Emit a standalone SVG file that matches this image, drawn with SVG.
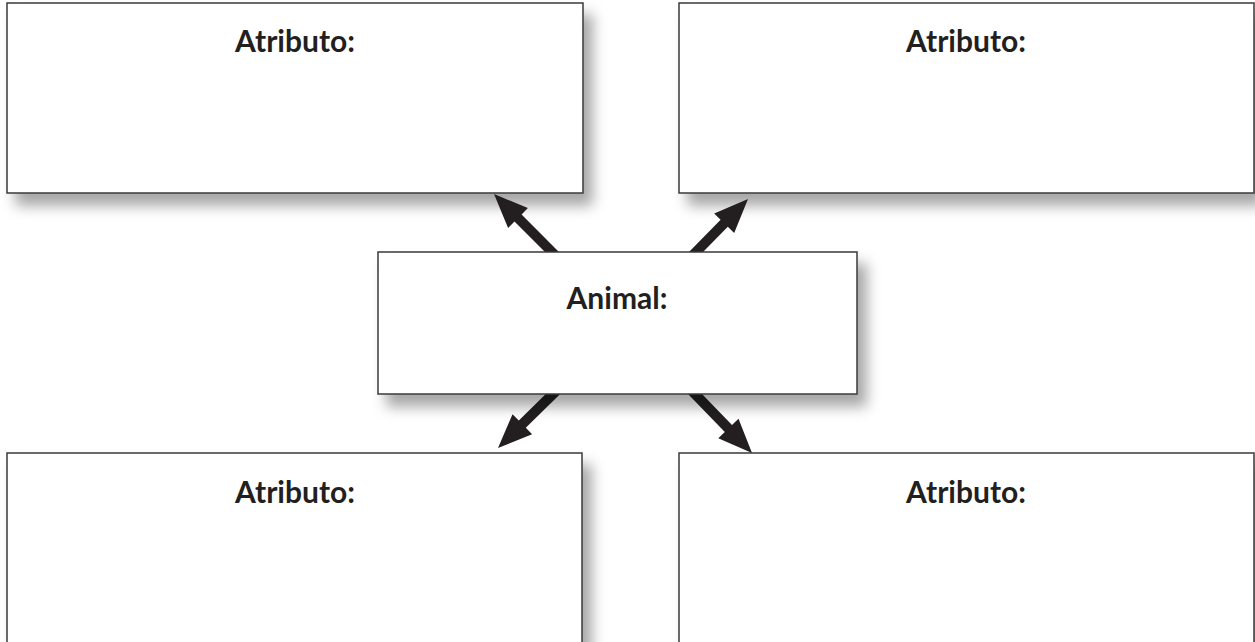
<svg xmlns="http://www.w3.org/2000/svg" width="1255" height="642" viewBox="0 0 1255 642">
<style>
.box{fill:#fff;stroke:#3a3a3a;stroke-width:1.5;filter:url(#sh)}
.lbl{font-family:Lato,"Open Sans",sans-serif;font-weight:bold;font-size:30px;fill:#231f20;text-anchor:middle}
.arr{fill:#231f20}
</style>
<defs>
<filter id="sh" x="-10%" y="-10%" width="130%" height="140%">
<feDropShadow dx="9" dy="12" stdDeviation="7" flood-color="#000" flood-opacity="0.35"/>
</filter>
</defs>
<g id="attr-tl"><rect class="box" x="7" y="3" width="576" height="190"/><text class="lbl" x="295" y="52">Atributo:</text></g>
<g id="attr-tr"><rect class="box" x="679" y="3" width="575" height="190"/><text class="lbl" x="966" y="52">Atributo:</text></g>
<g id="attr-bl"><rect class="box" x="7" y="453" width="575" height="200"/><text class="lbl" x="295" y="503">Atributo:</text></g>
<g id="attr-br"><rect class="box" x="679" y="453" width="575" height="200"/><text class="lbl" x="966" y="503">Atributo:</text></g>
<g id="connectors">
<polygon class="arr" points="561.2,254.2 521.6,214.5 527.9,208.1 494,194 508.1,227.9 514.5,221.6 554.2,261.2"/>
<polygon class="arr" points="694.0,261.2 727.8,226.8 734.2,233.1 748,199 714.2,213.5 720.6,219.8 686.8,254.2"/>
<polygon class="arr" points="554.2,385.8 518.8,420.6 512.5,414.2 498,448 532.1,434.2 525.8,427.8 561.2,393.0"/>
<polygon class="arr" points="686.8,392.7 724.8,432.0 718.3,438.3 752,453 738.5,418.8 732.0,425.1 694.0,385.7"/>
</g>
<g id="animal"><rect class="box" x="378" y="252" width="479" height="142"/><text class="lbl" x="617" y="309">Animal:</text></g>
</svg>
